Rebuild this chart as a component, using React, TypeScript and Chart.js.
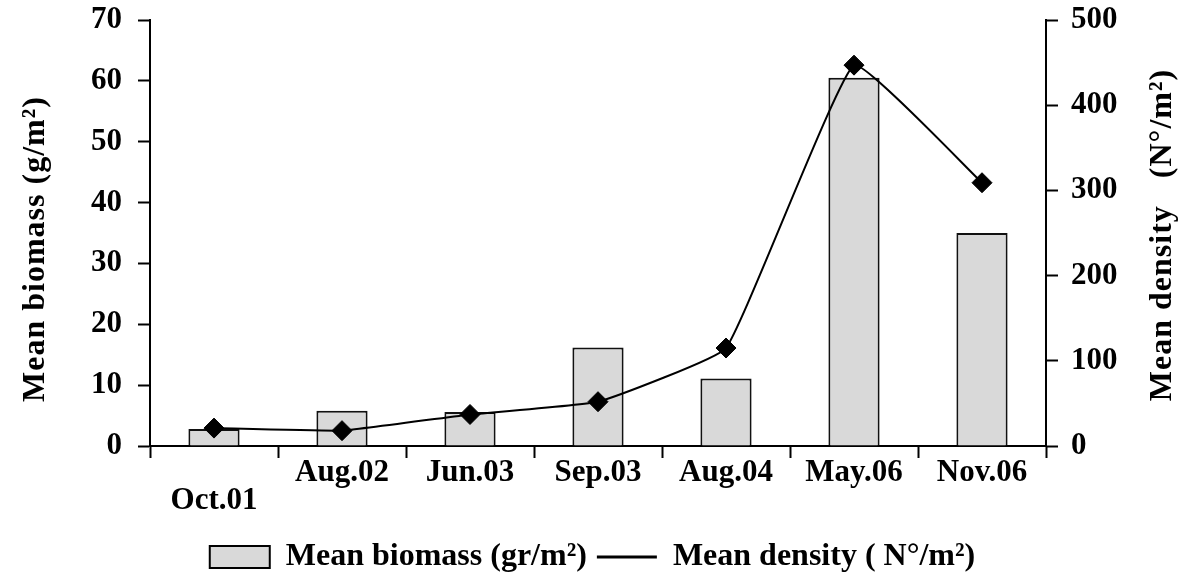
import React, { useEffect, useRef } from "react";
import { Chart, registerables } from "chart.js";

Chart.register(...registerables);

const categories: (string | string[])[] = [["", "Oct.01"], "Aug.02", "Jun.03", "Sep.03", "Aug.04", "May.06", "Nov.06"];
const biomass = [2.8, 5.8, 5.6, 16.2, 11.1, 60.5, 35.0];
const density = [21, 18, 37, 52, 115, 447, 309];
const biomassTicks = { min: 0, max: 70, step: 10 };
const densityTicks = { min: 0, max: 500, step: 100 };
const leftTitle = "Mean biomass (g/m²)";
const rightTitle = "Mean density   (N°/m²)";
const biomassLabel = "Mean biomass (gr/m²)";
const densityLabel = "Mean density ( N°/m²)";

const FONT = "'Liberation Serif', 'Times New Roman', serif";

const titlePlugin = {
  id: "sideTitles",
  afterDraw(chart: any) {
    const ctx = chart.ctx as CanvasRenderingContext2D;
    ctx.save();
    ctx.fillStyle = "#000";
    ctx.font = `bold 32px ${FONT}`;
    ctx.textAlign = "center";
    ctx.textBaseline = "middle";
    try { (ctx as any).letterSpacing = "1px"; } catch (e) {}
    ctx.translate(36, 249);
    ctx.rotate(-Math.PI / 2);
    ctx.fillText(leftTitle, 0, 0);
    ctx.restore();

    ctx.save();
    ctx.fillStyle = "#000";
    ctx.font = `bold 32px ${FONT}`;
    ctx.textAlign = "center";
    ctx.textBaseline = "middle";
    try { (ctx as any).letterSpacing = "1px"; } catch (e) {}
    ctx.translate(1163, 235);
    ctx.rotate(-Math.PI / 2);
    ctx.fillText(rightTitle, 0, 0);
    ctx.restore();
  },
};

export default function App() {
  const ref = useRef<HTMLCanvasElement | null>(null);

  useEffect(() => {
    if (!ref.current) return;
    Chart.defaults.color = "#000";
    const chart = new Chart(ref.current, {
      type: "bar",
      data: {
        labels: categories,
        datasets: [
          {
            type: "bar",
            label: biomassLabel,
            data: biomass,
            yAxisID: "y",
            backgroundColor: "#d9d9d9",
            borderColor: "#111",
            borderWidth: 2,
            barPercentage: 0.4,
            categoryPercentage: 1.0,
            order: 1,
          } as any,
          {
            type: "line",
            label: densityLabel,
            data: density,
            yAxisID: "y1",
            borderColor: "#000",
            borderWidth: 2,
            backgroundColor: "#000",
            pointStyle: "rectRot",
            pointRadius: 10,
            pointBackgroundColor: "#000",
            pointBorderColor: "#000",
            pointBorderWidth: 1,
            tension: 0.1,
            fill: false,
            order: 0,
          } as any,
        ],
      },
      options: {
        animation: false,
        responsive: false,
        maintainAspectRatio: false,
        layout: { padding: { top: 0, left: 0, right: 0, bottom: 0 } },
        plugins: {
          tooltip: { enabled: false },
          legend: {
            position: "bottom",
            labels: {
              usePointStyle: true,
              pointStyleWidth: 60,
              boxHeight: 22,
              padding: 10,
              color: "#000",
              font: { family: FONT, size: 32, weight: "bold" },
              generateLabels: () => [
                {
                  text: biomassLabel,
                  fillStyle: "#d9d9d9",
                  strokeStyle: "#000",
                  lineWidth: 2,
                  pointStyle: "rect",
                  datasetIndex: 0,
                  hidden: false,
                  fontColor: "#000",
                },
                {
                  text: densityLabel,
                  fillStyle: "#000",
                  strokeStyle: "#000",
                  lineWidth: 3,
                  pointStyle: "line",
                  datasetIndex: 1,
                  hidden: false,
                  fontColor: "#000",
                },
              ],
            },
          },
        },
        scales: {
          x: {
            offset: true,
            grid: {
              offset: true,
              drawOnChartArea: false,
              drawTicks: true,
              tickLength: 12,
              tickColor: "#000",
              tickWidth: 2,
            },
            border: { display: true, color: "#000", width: 2 },
            ticks: {
              color: "#000",
              padding: 1,
              maxRotation: 0,
              autoSkip: false,
              font: { family: FONT, size: 31, weight: "bold", lineHeight: 0.9 },
            },
            afterFit: (s: any) => { s.height = 85; },
          },
          y: {
            position: "left",
            min: biomassTicks.min,
            max: biomassTicks.max,
            grid: {
              drawOnChartArea: false,
              tickLength: 12,
              tickColor: "#000",
              tickWidth: 2,
            },
            border: { display: true, color: "#000", width: 2 },
            ticks: {
              stepSize: biomassTicks.step,
              color: "#000",
              padding: 16,
              font: { family: FONT, size: 31, weight: "bold" },
            },
            afterFit: (s: any) => { s.width = 150; s.paddingTop = 20; s.paddingBottom = 20; },
          },
          y1: {
            position: "right",
            min: densityTicks.min,
            max: densityTicks.max,
            grid: {
              drawOnChartArea: false,
              tickLength: 12,
              tickColor: "#000",
              tickWidth: 2,
            },
            border: { display: true, color: "#000", width: 2 },
            ticks: {
              stepSize: densityTicks.step,
              color: "#000",
              padding: 13,
              font: { family: FONT, size: 31, weight: "bold" },
            },
            afterFit: (s: any) => { s.width = 139; s.paddingTop = 20; s.paddingBottom = 20; },
          },
        },
      } as any,
      plugins: [titlePlugin],
    });
    return () => chart.destroy();
  }, []);

  return (
    <div style={{ position: "fixed", left: 0, top: 0, width: 1185, height: 583, background: "#fff" }}>
      <canvas ref={ref} width={1185} height={583} style={{ width: 1185, height: 583, display: "block" }} />
    </div>
  );
}
